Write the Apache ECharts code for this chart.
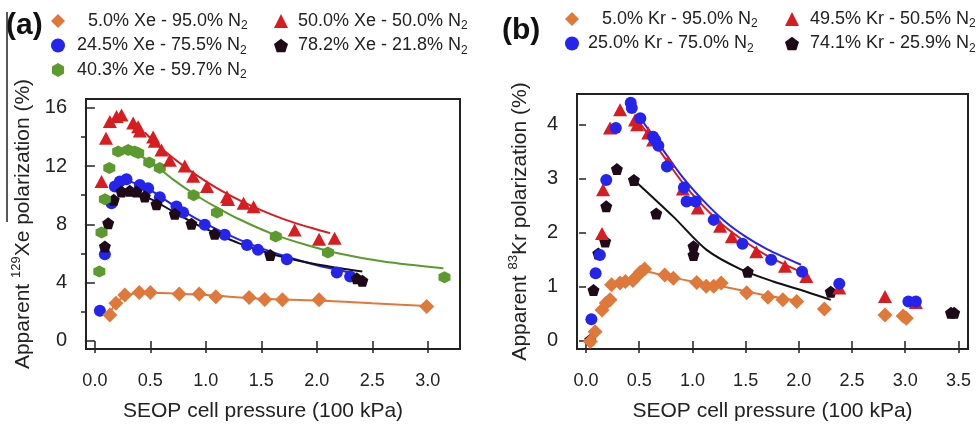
<!DOCTYPE html>
<html>
<head>
<meta charset="utf-8">
<script src="https://cdn.jsdelivr.net/npm/echarts@6/dist/echarts.min.js"></script>
<style>
  html, body { margin: 0; padding: 0; background: #fff; }
  #main { width: 976px; height: 429px; }
</style>
</head>
<body>
<div id="main"></div>
<script>
// tick values
const xTicksA = [0, 0.5, 1, 1.5, 2, 2.5, 3];
const yTicksA = [0, 4, 8, 12, 16];
const yMinorA = [2, 6, 10, 14];
const xTicksB = [0, 0.5, 1, 1.5, 2, 2.5, 3, 3.5];
const yTicksB = [0, 1, 2, 3, 4];

// (a) Xe mixtures: [pressure, polarization]
const xe5 = [[0.135,1.78],[0.19,2.59],[0.27,3.16],[0.40,3.32],[0.50,3.32],[0.76,3.23],[0.94,3.23],[1.09,3.04],[1.39,2.99],[1.53,2.84],[1.69,2.82],[2.02,2.82],[2.99,2.36]];
const xe5Fit = [[0.135,1.9],[0.2,2.7],[0.3,3.15],[0.4,3.3],[0.6,3.3],[1.0,3.15],[1.5,2.9],[2.0,2.78],[2.5,2.58],[2.99,2.4]];
const xe24 = [[0.045,2.08],[0.09,5.95],[0.15,9.45],[0.18,10.6],[0.225,10.94],[0.285,11.1],[0.405,10.7],[0.48,10.47],[0.585,9.86],[0.735,9.22],[0.795,8.81],[0.99,7.97],[1.17,7.28],[1.37,6.59],[1.47,6.25],[1.73,5.61],[2.18,4.69],[2.30,4.42]];
const xe24Fit = [[0.3,11.0],[0.5,10.35],[0.7,9.35],[0.9,8.45],[1.1,7.65],[1.3,6.95],[1.5,6.35],[1.7,5.85],[2.0,5.2],[2.3,4.7]];
const xe40 = [[0.04,4.76],[0.06,7.44],[0.09,9.73],[0.13,11.86],[0.21,13.0],[0.30,13.1],[0.36,13.0],[0.39,12.9],[0.49,12.25],[0.585,11.86],[0.89,10.0],[1.10,8.81],[1.63,7.16],[2.10,6.07],[3.15,4.37]];
const xe40Fit = [[0.3,13.1],[0.5,12.3],[0.7,11.1],[0.9,10.05],[1.1,9.15],[1.3,8.35],[1.6,7.35],[1.9,6.6],[2.2,6.0],[2.6,5.45],[3.14,4.99]];
const xe50 = [[0.06,10.94],[0.10,13.9],[0.135,15.06],[0.195,15.4],[0.24,15.5],[0.345,14.95],[0.39,14.7],[0.405,14.4],[0.525,14.0],[0.54,13.7],[0.60,13.1],[0.675,12.4],[0.81,12.0],[0.885,11.3],[1.01,10.6],[1.19,9.9],[1.2,9.7],[1.34,9.45],[1.43,9.2],[1.80,7.62],[2.02,6.98],[2.16,7.05]];
const xe50Fit = [[0.45,14.3],[0.6,13.2],[0.8,12.0],[1.0,10.95],[1.2,10.05],[1.4,9.3],[1.6,8.65],[1.8,8.1],[2.0,7.65],[2.12,7.4]];
const xe78 = [[0.09,6.48],[0.12,8.08],[0.17,9.68],[0.24,10.25],[0.315,10.3],[0.375,10.25],[0.45,9.91],[0.555,9.38],[0.72,8.72],[0.87,8.04],[1.08,7.35],[1.58,5.9],[2.36,4.30],[2.41,4.14]];
const xe78Fit = [[0.3,10.3],[0.5,9.75],[0.7,8.9],[0.9,8.05],[1.1,7.35],[1.3,6.7],[1.6,5.95],[1.9,5.4],[2.2,5.0],[2.41,4.76]];

// (b) Kr mixtures
const kr5 = [[0.04,-0.01],[0.085,0.17],[0.15,0.57],[0.19,0.70],[0.225,0.76],[0.24,1.04],[0.32,1.07],[0.37,1.10],[0.44,1.12],[0.475,1.19],[0.51,1.27],[0.55,1.33],[0.74,1.22],[0.82,1.16],[1.04,1.08],[1.13,1.01],[1.20,1.01],[1.27,1.07],[1.51,0.89],[1.71,0.81],[1.85,0.76],[1.98,0.73],[2.24,0.59],[2.81,0.48],[2.98,0.46],[3.01,0.42]];
const kr5Fit = [[0.55,1.3],[0.8,1.18],[1.0,1.1],[1.25,1.02],[1.5,0.92],[1.75,0.82],[2.0,0.74]];
const kr25 = [[0.05,0.40],[0.09,1.25],[0.13,1.59],[0.19,2.98],[0.28,3.94],[0.42,4.41],[0.43,4.31],[0.51,4.12],[0.63,3.78],[0.65,3.72],[0.68,3.61],[0.76,3.23],[0.92,2.84],[0.945,2.58],[1.03,2.58],[1.20,2.24],[1.47,1.80],[1.74,1.50],[2.03,1.28],[2.38,1.06],[3.03,0.73],[3.10,0.73]];
const kr25Fit = [[0.5,4.15],[0.7,3.6],[0.9,3.05],[1.1,2.6],[1.3,2.22],[1.5,1.93],[1.7,1.7],[2.02,1.41]];
const kr49 = [[0.15,1.99],[0.16,2.80],[0.225,3.94],[0.32,4.28],[0.46,4.09],[0.48,4.0],[0.585,3.85],[0.63,3.72],[0.77,3.32],[0.91,2.81],[1.05,2.46],[1.26,2.12],[1.37,1.93],[1.60,1.65],[1.87,1.38],[2.07,1.19],[2.38,0.98],[2.81,0.82],[3.10,0.71]];
const kr49Fit = [[0.5,4.05],[0.7,3.5],[0.9,2.95],[1.1,2.5],[1.3,2.12],[1.5,1.83],[1.7,1.58],[2.05,1.25]];
const kr74 = [[0.04,0.02],[0.07,0.94],[0.115,1.62],[0.18,1.84],[0.19,2.49],[0.29,3.18],[0.45,2.98],[0.66,2.36],[1.01,1.75],[1.01,1.59],[1.52,1.28],[2.30,0.91],[3.43,0.52],[3.46,0.52]];
const kr74Fit = [[0.45,2.98],[0.82,2.30],[1.13,1.69],[1.45,1.33],[1.76,1.10],[2.07,0.91],[2.30,0.76]];

const FONT = 'Liberation Sans, Arial, sans-serif';
const ORANGE = '#E0783A', RED = '#D81C20', BLUE = '#2424EE', GREEN = '#5B9A2C', DARK = '#1E0A18';
const pentagon = 'path://M0,-10L9.51,-3.09L5.88,8.09L-5.88,8.09L-9.51,-3.09Z';
const hexagon = 'path://M0,-10L8.66,-5L8.66,5L0,10L-8.66,5L-8.66,-5Z';

// left text padding for each legend entry
const padMap = {
  '5.0% Xe - 95.0% N2': 18, '24.5% Xe - 75.5% N2': 7, '40.3% Xe - 59.7% N2': 7,
  '50.0% Xe - 50.0% N2': 5, '78.2% Xe - 21.8% N2': 5,
  '5.0% Kr - 95.0% N2': 18, '25.0% Kr - 75.0% N2': 4,
  '49.5% Kr - 50.5% N2': 6, '74.1% Kr - 25.9% N2': 6
};

var chart = echarts.init(document.getElementById('main'));

function pts(name, data, color, symbol, size, xi, yi) {
  return { name: name, type: 'scatter', data: data, symbol: symbol, symbolSize: size,
    xAxisIndex: xi, yAxisIndex: yi, itemStyle: { color: color, opacity: 1 }, z: 3 };
}
function fit(data, color, xi, yi) {
  return { type: 'line', data: data, symbol: 'none', smooth: 0.3, xAxisIndex: xi, yAxisIndex: yi,
    lineStyle: { color: color, width: 2 }, z: 2, silent: true };
}

const rich = {
  s: { fontSize: 12, lineHeight: 12, verticalAlign: 'bottom', fontFamily: FONT, color: '#222' }
};
[4, 5, 6, 7, 18].forEach(function (p) {
  rich['t' + p] = { fontSize: 18, lineHeight: 22, fontFamily: FONT, color: '#222', padding: [0, 0, 0, p] };
});

function legend(left, top, names) {
  return {
    left: left, top: top, orient: 'vertical', itemGap: 4.5, padding: 0,
    itemWidth: 14, itemHeight: 14, data: names,
    formatter: function (name) {
      return '{t' + padMap[name] + '|' + name.slice(0, -1) + '}{s|2}';
    },
    textStyle: { rich: rich }
  };
}

function xAxis(gi, min, max, ticks, shiftName) {
  return {
    type: 'value', gridIndex: gi, min: min, max: max,
    axisLine: { show: false }, splitLine: { show: false },
    axisTick: { show: true, length: 12, customValues: ticks, lineStyle: { color: '#222', width: 1.5 } },
    axisLabel: { customValues: ticks, margin: 23, fontSize: 18, fontFamily: FONT, color: '#222',
      formatter: function (v) { return v.toFixed(1); } },
    name: 'SEOP cell pressure (100 kPa)', nameLocation: 'middle', nameGap: 52,
    nameTextStyle: { fontSize: 21, fontFamily: FONT, color: '#222', padding: [0, shiftName, 0, 0] }
  };
}

function yAxis(gi, min, max, ticks, len, nameText, gap) {
  return {
    type: 'value', gridIndex: gi, min: min, max: max, position: 'left',
    axisLine: { show: false }, splitLine: { show: false },
    axisTick: { show: true, length: len, customValues: ticks, lineStyle: { color: '#222', width: 1.5 } },
    axisLabel: { customValues: ticks, margin: 19, fontSize: 20, fontFamily: FONT, color: '#222' },
    name: nameText, nameLocation: 'middle', nameGap: gap,
    nameTextStyle: { fontSize: 21, fontFamily: FONT, color: '#222', rich: {
      sup: { fontSize: 13, lineHeight: 13, verticalAlign: 'top', fontFamily: FONT, color: '#222' },
      n: { fontSize: 21, lineHeight: 26, fontFamily: FONT, color: '#222' }
    } }
  };
}

var minorAxis = yAxis(0, -0.55, 16.6, yMinorA, 5, '', 0);
minorAxis.axisLabel = { show: false };

var option = {
  backgroundColor: '#fff',
  animation: false,
  grid: [
    { left: 86, top: 99, right: 516, bottom: 80, show: true, borderColor: '#222', borderWidth: 2 },
    { left: 577, top: 94, right: 8, bottom: 80, show: true, borderColor: '#222', borderWidth: 2 }
  ],
  xAxis: [
    xAxis(0, -0.08, 3.29, xTicksA, 20),
    xAxis(1, -0.085, 3.59, xTicksB, 0)
  ],
  yAxis: [
    yAxis(0, -0.55, 16.6, yTicksA, 10, '{n|Apparent }{sup|129}{n|Xe polarization (%)}', 50),
    minorAxis,
    yAxis(1, -0.15, 4.57, yTicksB, 7, '{n|Apparent }{sup|83}{n|Kr polarization (%)}', 44)
  ],
  legend: [
    legend(51, 12, ['5.0% Xe - 95.0% N2', '24.5% Xe - 75.5% N2', '40.3% Xe - 59.7% N2']),
    legend(274, 12, ['50.0% Xe - 50.0% N2', '78.2% Xe - 21.8% N2']),
    legend(565, 10, ['5.0% Kr - 95.0% N2', '25.0% Kr - 75.0% N2']),
    legend(785, 10, ['49.5% Kr - 50.5% N2', '74.1% Kr - 25.9% N2'])
  ],
  graphic: [
    { type: 'text', left: 6, top: 11, style: { text: '(a)', font: 'bold 30px ' + FONT, fill: '#111' } },
    { type: 'text', left: 502, top: 16, style: { text: '(b)', font: 'bold 30px ' + FONT, fill: '#111' } },
    { type: 'line', shape: { x1: 7, y1: 12, x2: 7, y2: 222 }, style: { stroke: '#222', lineWidth: 1.5 } }
  ],
  series: [
    fit(xe5Fit, ORANGE, 0, 0), fit(xe24Fit, BLUE, 0, 0), fit(xe40Fit, GREEN, 0, 0),
    fit(xe50Fit, RED, 0, 0), fit(xe78Fit, '#111', 0, 0),
    pts('24.5% Xe - 75.5% N2', xe24, BLUE, 'circle', 12, 0, 0),
    pts('78.2% Xe - 21.8% N2', xe78, DARK, pentagon, 12, 0, 0),
    pts('40.3% Xe - 59.7% N2', xe40, GREEN, hexagon, 12, 0, 0),
    pts('50.0% Xe - 50.0% N2', xe50, RED, 'triangle', [14, 13], 0, 0),
    pts('5.0% Xe - 95.0% N2', xe5, ORANGE, 'diamond', 15, 0, 0),

    fit(kr5Fit, ORANGE, 1, 2), fit(kr49Fit, RED, 1, 2), fit(kr74Fit, '#111', 1, 2),
    pts('74.1% Kr - 25.9% N2', kr74, DARK, pentagon, 12, 1, 2),
    pts('49.5% Kr - 50.5% N2', kr49, RED, 'triangle', [14, 13], 1, 2),
    pts('25.0% Kr - 75.0% N2', kr25, BLUE, 'circle', 12, 1, 2),
    fit(kr25Fit, BLUE, 1, 2),
    pts('5.0% Kr - 95.0% N2', kr5, ORANGE, 'diamond', 15, 1, 2)
  ]
};

option && chart.setOption(option);
</script>
</body>
</html>
